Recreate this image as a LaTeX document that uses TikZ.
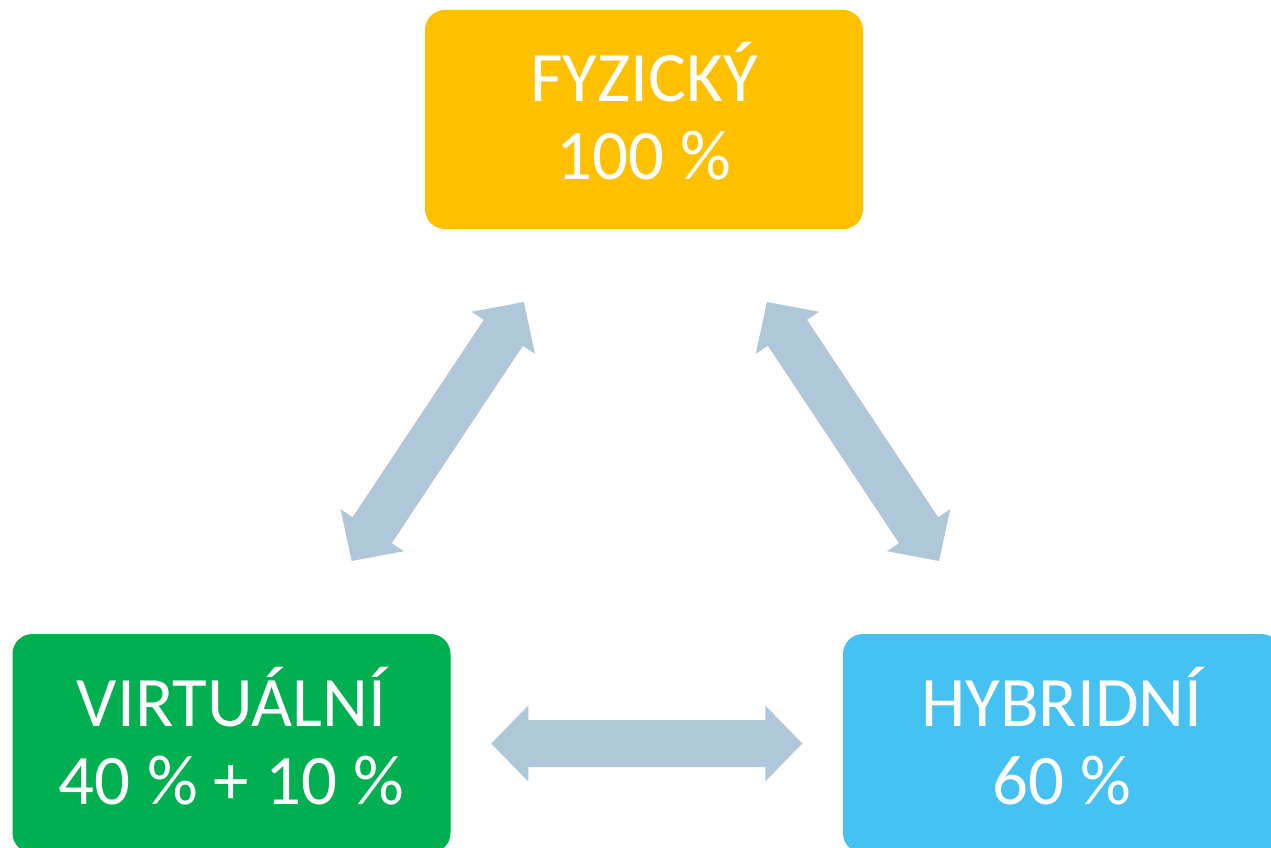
\documentclass[tikz,border=0pt]{standalone}
\usepackage{fontspec}
\setmainfont{Carlito}
\usetikzlibrary{calc}
\definecolor{gold}{HTML}{FFC000}
\definecolor{grn}{HTML}{00B050}
\definecolor{sky}{HTML}{45C1F2}
\definecolor{arrowc}{HTML}{AFC8D9}
\tikzset{
  box/.style={rounded corners=20pt, minimum width=438pt, minimum height=219pt,
    inner sep=0pt},
  boxtext/.style={text=white, align=center, inner sep=0pt,
    font=\fontsize{71}{78}\selectfont},
  dblarrow/.pic={\fill[arrowc] (-155.5,0) -- (-118.5,38) -- (-118.5,23.5) -- (118.5,23.5)
     -- (118.5,38) -- (155.5,0) -- (118.5,-38) -- (118.5,-23.5) -- (-118.5,-23.5)
     -- (-118.5,-38) -- cycle;}
}
\begin{document}
\begin{tikzpicture}[x=1pt,y=1pt]
\useasboundingbox (0,0) rectangle (1271,847);
\clip (0,0) rectangle (1271,847);
\fill[white] (0,0) rectangle (1271,847);
\node[box, fill=gold] (F) at (644,727.5) {};
\node[box, fill=grn] (V) at (231.5,103.5) {};
\node[box, fill=sky] (H) at (1062,103.5) {};
\node[boxtext] (Ft) at ([yshift=8pt]F.center) {FYZICKÝ\\100 \%};
\node[boxtext] (Vt) at ([yshift=7pt]V.center) {VIRTUÁLNÍ\\40 \% + 10 \%};
\node[boxtext] (Ht) at ([yshift=7pt]H.center) {HYBRIDNÍ\\60 \%};
\pic[rotate=56.4] at ($(F)!0.5!(V)$) {dblarrow};
\pic[rotate=123.6] at ($(F)!0.5!(H)$) {dblarrow};
\pic at ($(V)!0.5!(H)$) {dblarrow};
\end{tikzpicture}
\end{document}
